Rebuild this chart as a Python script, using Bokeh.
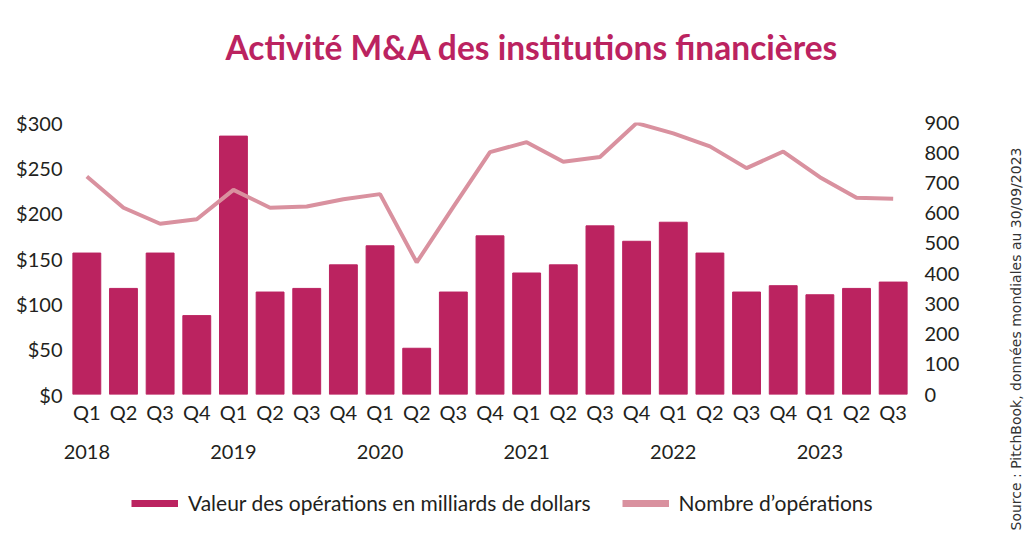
import math
from bokeh.plotting import figure
from bokeh.layouts import row, column
from bokeh.models import (Range1d, LinearAxis, FixedTicker, Legend, LegendItem,
                          Label, NumeralTickFormatter)
from bokeh.embed import file_html
from bokeh.resources import INLINE

# ---- data ----
quarters = ["Q1", "Q2", "Q3", "Q4", "Q1", "Q2", "Q3", "Q4", "Q1", "Q2", "Q3", "Q4",
            "Q1", "Q2", "Q3", "Q4", "Q1", "Q2", "Q3", "Q4", "Q1", "Q2", "Q3"]
years = ["2018", "2019", "2020", "2021", "2022", "2023"]
deal_value = [156, 117, 156, 87, 285, 113, 117, 143, 164, 51, 113, 175,
              134, 143, 186, 169, 190, 156, 113, 120, 110, 117, 124]
deal_count = [721, 618, 565, 580, 677, 618, 622, 646, 663, 437, 621, 802,
              835, 770, 786, 898, 864, 821, 749, 804, 719, 651, 648]
left_ticks = [0, 50, 100, 150, 200, 250, 300]
right_ticks = [0, 100, 200, 300, 400, 500, 600, 700, 800, 900]
series_names = ["Valeur des opérations en milliards de dollars", "Nombre d’opérations"]
title_text = "Activité M&A des institutions financières"
source_text = "Source : PitchBook, données mondiales au 30/09/2023"

BAR = "#BB2360"
LINE = "#D9919F"
TXT = "#231F20"
AX_FONT = "Lato"

MAIN_W = 1000
TITLE_H, MAIN_H, LEG_H = 90, 390, 62
SRC_W = 32


def bare(f):
    f.outline_line_color = None
    f.grid.visible = False
    f.background_fill_color = "white"
    f.border_fill_color = "white"
    return f


idx = list(range(len(quarters)))
year_pos = [i for i, q in enumerate(quarters) if q == "Q1"]

# ---- title strip ----
tf = bare(figure(width=MAIN_W, height=TITLE_H, x_range=Range1d(0, 1), y_range=Range1d(0, 1),
                 output_backend="svg", toolbar_location=None,
                 x_axis_location=None, y_axis_location=None, min_border=0))
tf.add_layout(Label(x=157, y=44, x_units="screen", y_units="screen", text=title_text,
                    text_align="left", text_baseline="alphabetic", text_font="Lato",
                    text_font_style="bold", text_font_size="33.5px", text_color=BAR))

# ---- main chart ----
p = bare(figure(width=MAIN_W, height=MAIN_H, x_range=Range1d(-0.5, len(quarters) - 0.5),
                y_range=Range1d(0, 300), output_backend="svg", toolbar_location=None,
                x_axis_location=None, y_axis_location=None,
                min_border_left=68, min_border_right=89, min_border_top=32,
                min_border_bottom=86))
p.extra_y_ranges = {"n": Range1d(0, 900)}

r_bar = p.vbar(x=idx, top=deal_value, width=0.76, color=BAR)
r_line = p.line(x=idx, y=deal_count, y_range_name="n", line_width=4, color=LINE)


def style_axis(ax, size="20px", standoff=6):
    ax.axis_line_color = None
    ax.major_tick_line_color = None
    ax.minor_tick_line_color = None
    ax.major_tick_out = 0
    ax.major_tick_in = 0
    ax.minor_tick_out = 0
    ax.minor_tick_in = 0
    ax.major_label_text_font = AX_FONT
    ax.major_label_text_font_size = size
    ax.major_label_text_color = TXT
    ax.major_label_standoff = standoff


yl = LinearAxis(ticker=FixedTicker(ticks=left_ticks),
                formatter=NumeralTickFormatter(format="$0"))
style_axis(yl, standoff=6)
p.add_layout(yl, "left")

yr = LinearAxis(y_range_name="n", ticker=FixedTicker(ticks=right_ticks))
style_axis(yr, standoff=13)
p.add_layout(yr, "right")

xq = LinearAxis(ticker=FixedTicker(ticks=idx),
                major_label_overrides={i: q for i, q in enumerate(quarters)})
style_axis(xq, standoff=5)
p.add_layout(xq, "below")

xy = LinearAxis(ticker=FixedTicker(ticks=year_pos),
                major_label_overrides={pos: y for pos, y in zip(year_pos, years)})
style_axis(xy, standoff=18)
p.add_layout(xy, "below")

# ---- legend strip (proxy renderers hold the same series, kept out of view) ----
lf = bare(figure(width=MAIN_W, height=LEG_H, x_range=Range1d(-100, -99), y_range=Range1d(0, 1),
                 output_backend="svg", toolbar_location=None,
                 x_axis_location=None, y_axis_location=None, min_border=0))
leg_bar = lf.line(x=idx, y=deal_value, line_width=7, color=BAR)
leg_line = lf.line(x=idx, y=deal_count, line_width=7, color=LINE)
legend = Legend(items=[
    LegendItem(label=series_names[0], renderers=[leg_bar]),
    LegendItem(label=series_names[1], renderers=[leg_line]),
], orientation="horizontal", location=(63, 27),
    glyph_width=47, glyph_height=24, label_height=24, label_standoff=10, spacing=31,
    border_line_color=None, background_fill_alpha=0, padding=0, margin=0,
    label_text_font=AX_FONT, label_text_font_size="21px", label_text_color=TXT)
lf.add_layout(legend, "center")

# ---- source strip ----
H = TITLE_H + MAIN_H + LEG_H
sf = bare(figure(width=SRC_W, height=H, x_range=Range1d(0, SRC_W), y_range=Range1d(0, H),
                 output_backend="svg", toolbar_location=None,
                 x_axis_location=None, y_axis_location=None, min_border=0))
sf.add_layout(Label(x=15, y=12, angle=math.pi / 2, text=source_text,
                    text_align="left", text_baseline="middle", text_font="DejaVu Sans",
                    text_font_size="14px", text_color="#333333"))

layout = row(column(tf, p, lf), sf)
open("out.html", "w").write(file_html(layout, INLINE))
